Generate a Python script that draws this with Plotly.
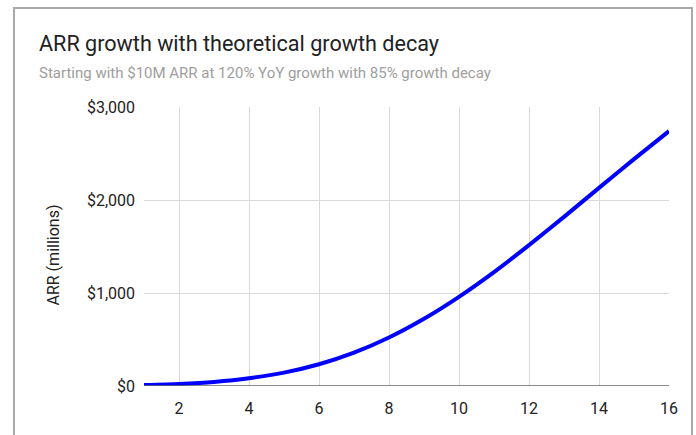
import plotly.graph_objects as go

years = list(range(1, 17))
arr_millions = [10, 22, 44, 83, 144, 234, 359, 522, 723, 959, 1225, 1515, 1819, 2130, 2439, 2740]
y_ticks = [0, 1000, 2000, 3000]
y_tick_labels = ["$0", "$1,000", "$2,000", "$3,000"]
x_ticks = [2, 4, 6, 8, 10, 12, 14, 16]

title_text = "ARR growth with theoretical growth decay"
subtitle_text = "Starting with $10M ARR at 120% YoY growth with 85% growth decay"
y_title_text = "ARR (millions)"

W, H = 696, 435
ML, MR, MT, MB = 144, 27, 107, 49
PW, PH = W - ML - MR, H - MT - MB

def px(x):
    return (x - ML) / PW

def py(y):
    return (H - MB - y) / PH

fig = go.Figure()
fig.add_trace(go.Scatter(
    x=years, y=arr_millions, mode="lines",
    line=dict(color="#0000ff", width=4, shape="spline", smoothing=0.6),
    hoverinfo="x+y", showlegend=False,
))

fig.update_layout(
    width=W, height=H,
    margin=dict(l=ML, r=MR, t=MT, b=MB, pad=0),
    paper_bgcolor="white", plot_bgcolor="white",
    font=dict(family="Roboto", color="#222222"),
    xaxis=dict(
        range=[1, 16], tickvals=x_ticks, ticktext=[str(v) for v in x_ticks],
        showgrid=True, gridcolor="#d9d9d9", gridwidth=1,
        zeroline=False, showline=False, ticks="",
        tickfont=dict(size=16, color="#222222"), ticklabelstandoff=11,
    ),
    yaxis=dict(
        range=[0, 3000], tickvals=y_ticks, ticktext=y_tick_labels,
        showgrid=True, gridcolor="#d9d9d9", gridwidth=1,
        zeroline=False, showline=False, ticks="",
        tickfont=dict(size=16, color="#222222"), ticklabelstandoff=8,
    ),
    shapes=[
        dict(type="rect", xref="paper", yref="paper",
             x0=px(14), x1=px(692), y0=py(8), y1=py(460),
             line=dict(color="#aaaaaa", width=2), fillcolor="rgba(0,0,0,0)", layer="below"),
        dict(type="line", xref="paper", yref="y", x0=0, x1=1, y0=0, y1=0,
             line=dict(color="#666666", width=1.5)),
    ],
    annotations=[
        dict(text=title_text, xref="paper", yref="paper", x=px(37), y=py(44),
             xanchor="left", yanchor="middle", showarrow=False,
             font=dict(size=21.6, color="#222222", family="Roboto")),
        dict(text=subtitle_text, xref="paper", yref="paper", x=px(37), y=py(73),
             xanchor="left", yanchor="middle", showarrow=False,
             font=dict(size=15, color="#9e9e9e", family="Roboto")),
        dict(text=y_title_text, xref="paper", yref="paper", x=px(53), y=py(255.5),
             xanchor="center", yanchor="middle", textangle=-90, showarrow=False,
             font=dict(size=16, color="#222222", family="Roboto")),
    ],
)

fig.write_html("out.html", config={"displayModeBar": False},
               post_script="document.body.style.margin='0';")
